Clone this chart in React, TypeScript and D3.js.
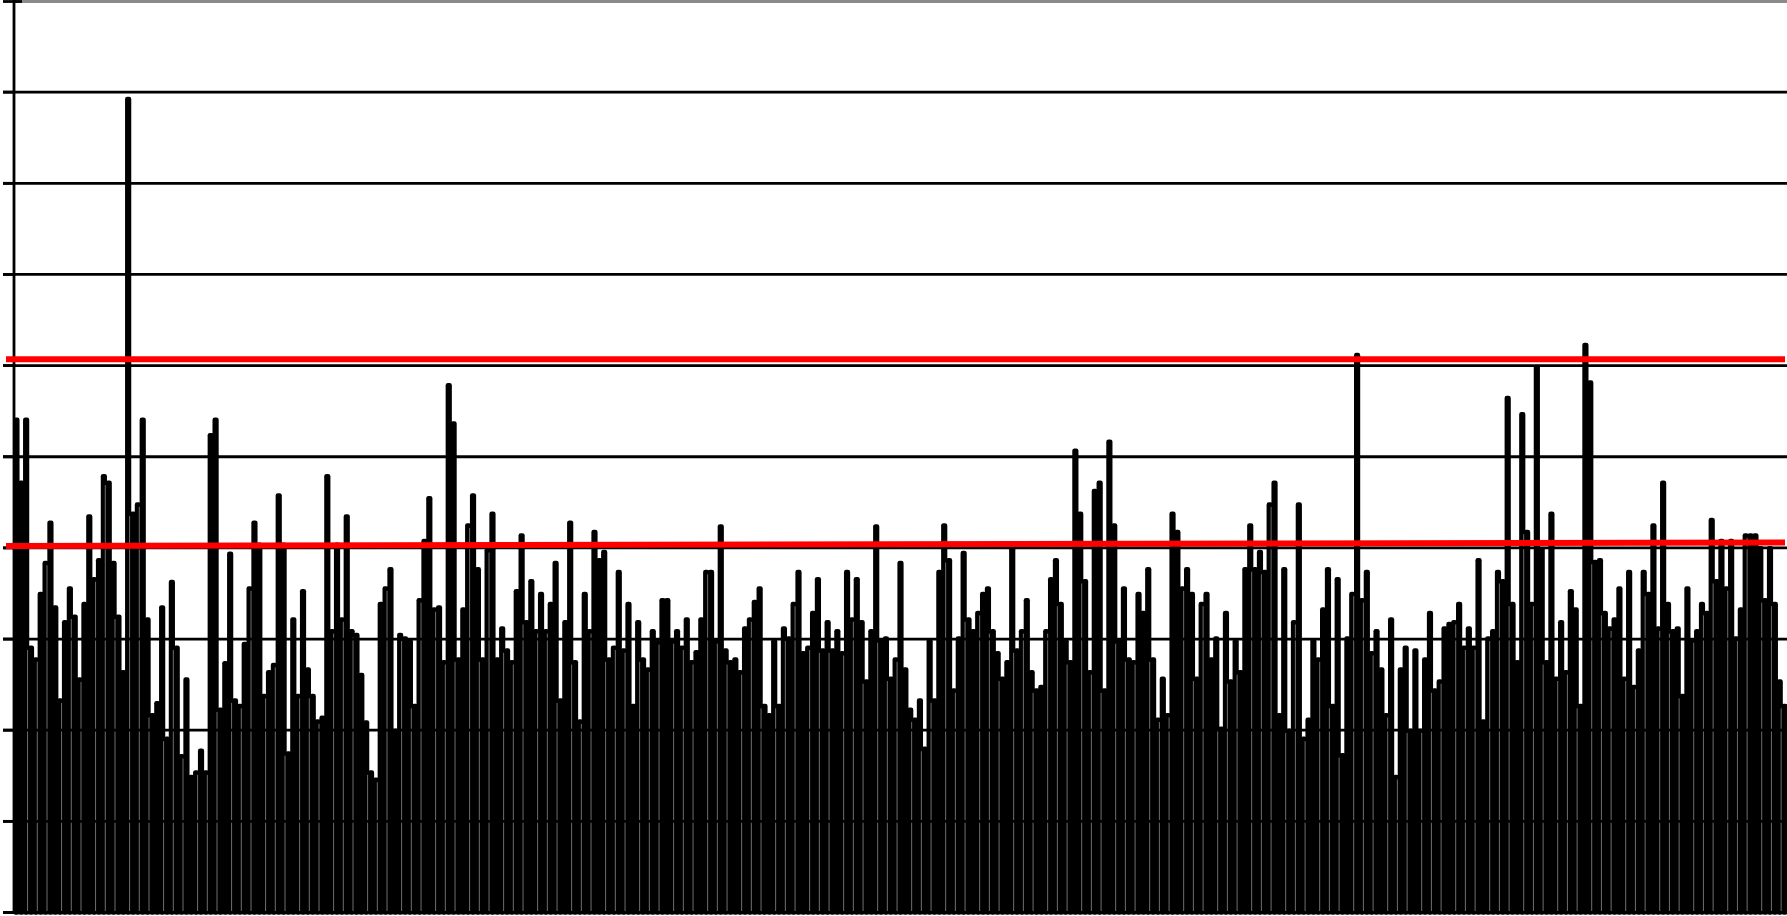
import React from "react";
import * as d3 from "d3";

// Daily measurements, one bar per day (365 days), split by stretch of the year.
const daysJanFeb: number[] = [
  54.3, 47.4, 54.3, 29.3, 28.0, 35.2, 38.6, 43.0, 33.7, 23.5,
  32.1, 35.8, 32.7, 25.8, 34.1, 43.7, 36.8, 38.9, 48.1, 47.4,
  38.6, 32.7, 26.6, 89.5, 44.0, 45.0, 54.3, 32.4, 21.9, 23.2,
  33.7, 19.3, 36.5, 29.3, 17.4, 25.8, 15.1, 15.6, 18.0, 15.6,
  52.6, 54.3, 22.5, 27.6, 39.6, 23.5, 22.9, 29.7, 35.8, 43.0,
  40.6, 24.0, 26.6, 27.4, 46.0, 40.6, 17.7, 32.4, 24.0,
];
const daysMarApr: number[] = [
  35.5, 26.9, 24.0, 21.2, 21.6, 48.1, 31.1, 40.6, 32.4, 43.7,
  31.1, 30.7, 26.3, 21.1, 15.6, 14.8, 34.1, 35.8, 37.9, 20.2,
  30.7, 30.3, 30.0, 22.9, 34.5, 41.0, 45.7, 33.5, 33.7, 27.7,
  58.1, 53.9, 28.0, 33.5, 42.7, 46.0, 37.9, 28.0, 40.0, 44.0,
  28.0, 31.4, 29.0, 27.7, 35.5, 41.6, 32.1, 36.6, 31.1, 35.2,
  31.1, 34.1, 38.6, 23.5, 32.1, 43.0, 27.7, 21.2, 35.2, 31.1,
  42.0,
];
const daysMayJun: number[] = [
  38.9, 39.8, 28.0, 29.3, 37.6, 29.0, 34.1, 22.9, 32.1, 28.0,
  26.9, 31.1, 29.9, 34.5, 34.5, 30.0, 31.1, 29.3, 32.4, 27.7,
  28.8, 32.4, 37.6, 37.6, 30.0, 42.6, 29.0, 27.7, 28.0, 26.6,
  31.4, 32.4, 34.3, 35.8, 22.9, 21.9, 30.0, 22.9, 31.4, 30.3,
  34.1, 37.6, 28.7, 29.3, 33.1, 36.8, 29.0, 32.1, 29.0, 31.1,
  28.7, 37.6, 32.4, 36.8, 32.1, 25.6, 31.1, 42.6, 30.1, 30.3,
  25.9,
];
const daysJulAug: number[] = [
  28.0, 38.6, 26.9, 22.5, 21.4, 23.5, 18.2, 30.0, 23.5, 37.6,
  42.7, 38.9, 24.6, 30.3, 39.7, 32.4, 31.1, 33.1, 35.2, 35.8,
  31.1, 28.7, 25.9, 27.7, 40.1, 29.0, 31.1, 34.5, 26.6, 24.6,
  25.0, 31.1, 36.8, 38.9, 34.1, 30.0, 27.7, 50.9, 44.0, 36.6,
  26.6, 46.5, 47.4, 24.6, 51.9, 42.7, 30.0, 35.8, 28.0, 27.7,
  35.2, 33.1, 37.9, 28.0, 21.4, 25.9, 21.9, 44.0, 42.0, 35.8,
  37.9,
];
const daysSepOct: number[] = [
  35.2, 25.9, 34.1, 35.2, 28.0, 30.3, 20.4, 33.1, 25.6, 30.0,
  26.6, 37.9, 42.7, 37.9, 39.8, 37.6, 45.0, 47.4, 21.9, 37.9,
  20.2, 32.1, 45.0, 19.3, 21.4, 30.0, 28.0, 33.5, 37.9, 22.9,
  36.8, 17.5, 30.3, 35.2, 61.4, 34.5, 37.6, 28.7, 31.1, 26.9,
  21.9, 32.4, 15.1, 26.9, 29.3, 20.2, 29.0, 20.2, 28.0, 33.1,
  24.6, 25.6, 31.4, 31.9, 32.1, 34.1, 29.3, 31.4, 29.3, 38.9,
];
const daysNovDec: number[] = [
  21.2, 30.3, 31.1, 37.6, 36.6, 56.7, 34.1, 27.7, 54.9, 42.0,
  34.1, 60.1, 40.1, 27.7, 44.0, 25.9, 32.1, 26.6, 35.5, 33.5,
  22.9, 62.5, 58.4, 38.7, 38.9, 33.1, 31.4, 32.4, 35.8, 25.9,
  37.6, 25.0, 29.0, 37.6, 35.2, 42.7, 31.4, 47.4, 34.1, 31.1,
  31.4, 24.0, 35.8, 30.1, 31.1, 34.1, 33.1, 43.3, 36.6, 41.0,
  35.8, 41.0, 30.3, 33.5, 41.6, 41.6, 41.6, 40.2, 34.5, 40.2,
  34.1, 25.6, 22.9,
];

const dailyValues: number[] = [
  ...daysJanFeb,
  ...daysMarApr,
  ...daysMayJun,
  ...daysJulAug,
  ...daysSepOct,
  ...daysNovDec,
];

// Value axis: gridlines every 10 units, no labels.
const yTicks: number[] = [0, 10, 20, 30, 40, 50, 60, 70, 80, 90, 100];

// Reference lines drawn in red.
const upperLimit = 60.7;
const trendStart = 40.2;
const trendEnd = 40.6;

const WIDTH = 1787;
const HEIGHT = 916;
const AXIS_X = 14;
const BASE_Y = 912.5;
const TOP_Y = 1;

export default function App() {
  const x = d3
    .scaleBand<number>()
    .domain(d3.range(dailyValues.length))
    .range([AXIS_X, WIDTH])
    .padding(0);
  const y = d3.scaleLinear().domain([0, 100]).range([BASE_Y, TOP_Y]);

  const bw = x.bandwidth();
  const barInner = 1.6;
  const barStroke = 4.6;

  // Thin light seams where neighbouring bars meet (about three per seven bars).
  const seams = d3
    .range(1, dailyValues.length)
    .filter((k) => Math.floor((3 * k) / 7) > Math.floor((3 * (k - 1)) / 7))
    .map((k) => ({
      x: (x(k) as number) - 1,
      top: y(Math.min(dailyValues[k - 1], dailyValues[k])) + barStroke,
    }));

  const redLine = d3
    .line<[number, number]>()
    .x((d) => d[0])
    .y((d) => y(d[1]));

  return (
    <svg
      width={WIDTH}
      height={HEIGHT}
      viewBox={`0 0 ${WIDTH} ${HEIGHT}`}
      style={{ position: "absolute", left: 0, top: 0, display: "block", background: "#fff" }}
    >
      <rect x={0} y={0} width={WIDTH} height={HEIGHT} fill="#fff" />

      {/* bars */}
      <g fill="#000" stroke="#000" strokeWidth={barStroke} strokeLinejoin="round">
        {dailyValues.map((v, i) => {
          const cx = (x(i) as number) + bw / 2;
          const top = y(v) + barStroke / 2;
          return (
            <rect
              key={i}
              x={cx - barInner / 2}
              y={top}
              width={barInner}
              height={Math.max(0, BASE_Y - top)}
            />
          );
        })}
      </g>
      <g stroke="#7a7a7a" strokeWidth={0.9}>
        {seams.map((s, i) => (
          <line key={i} x1={s.x} x2={s.x} y1={s.top} y2={BASE_Y - 1.5} />
        ))}
      </g>

      {/* horizontal gridlines */}
      {yTicks
        .filter((t) => t > 0 && t < 100)
        .map((t) => (
          <line key={`g${t}`} x1={3} x2={WIDTH} y1={y(t)} y2={y(t)} stroke="#000" strokeWidth={2.8} />
        ))}
      {/* plot-area top border */}
      <line x1={AXIS_X} x2={WIDTH} y1={y(100) + 0.5} y2={y(100) + 0.5} stroke="#8a8a8a" strokeWidth={3} />

      {/* value axis with tick marks */}
      <line x1={AXIS_X} x2={AXIS_X} y1={0} y2={BASE_Y + 1.5} stroke="#000" strokeWidth={2.8} />
      {yTicks.map((t) => (
        <line
          key={`t${t}`}
          x1={3}
          x2={t === 100 ? 22 : AXIS_X}
          y1={t === 100 ? y(t) + 0.5 : y(t)}
          y2={t === 100 ? y(t) + 0.5 : y(t)}
          stroke="#000"
          strokeWidth={2.8}
        />
      ))}
      {/* category axis */}
      <line x1={3} x2={WIDTH} y1={BASE_Y} y2={BASE_Y} stroke="#000" strokeWidth={3} />

      {/* red reference lines */}
      <path
        d={redLine([[6, upperLimit], [1785, upperLimit]]) ?? ""}
        stroke="#ff0000"
        strokeWidth={6}
        fill="none"
      />
      <path
        d={redLine([[6, trendStart], [1785, trendEnd]]) ?? ""}
        stroke="#ff0000"
        strokeWidth={6}
        fill="none"
      />
    </svg>
  );
}
